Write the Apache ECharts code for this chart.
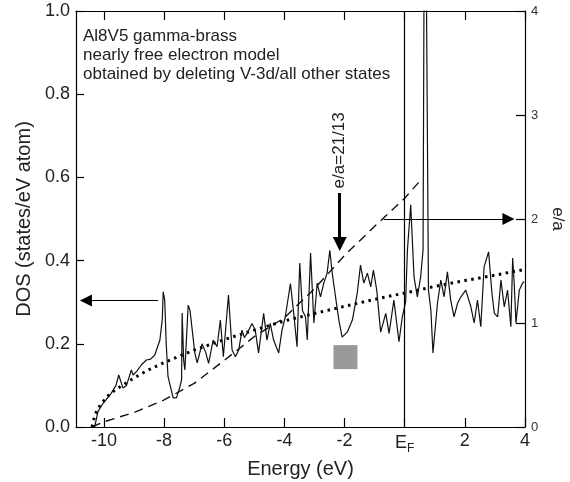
<!DOCTYPE html>
<html>
<head>
<meta charset="utf-8">
<script src="https://cdn.jsdelivr.net/npm/echarts@6/dist/echarts.min.js"></script>
<style>
  html, body { margin: 0; padding: 0; background: #fff; }
  #chart { width: 570px; height: 482px; }
</style>
</head>
<body>
<div id="chart"></div>
<script>
// energy ticks (eV), 0 is drawn as E_F
var energyTicks = [-10, -8, -6, -4, -2, 0, 2, 4];
var dosTicks = [0, 0.2, 0.4, 0.6, 0.8, 1.0];
var eaTicks = [0, 1, 2, 3, 4];

// DOS curve
var dosEnergy = [-10.31, -10.2, -10.03, -9.76, -9.6, -9.51, -9.37, -9.25, -9.09, -9.03, -8.9, -8.76, -8.59, -8.45, -8.31, -8.14, -8.06, -8.03, -7.98, -7.93,
  -7.87, -7.7, -7.59, -7.48, -7.42, -7.4, -7.35, -7.31, -7.2, -7.14, -6.98, -6.9, -6.74, -6.62, -6.52, -6.37, -6.24, -6.13, -6.03, -5.86,
  -5.74, -5.63, -5.52, -5.41, -5.33, -5.24, -5.08, -4.97, -4.86, -4.69, -4.58, -4.47, -4.36, -4.19, -4.08, -3.97, -3.8, -3.69, -3.58, -3.49,
  -3.4, -3.3, -3.24, -3.13, -3.02, -2.91, -2.8, -2.69, -2.58, -2.49, -2.41, -2.3, -2.19, -2.08, -1.91, -1.74, -1.58, -1.47, -1.36, -1.24,
  -1.13, -1.04, -0.93, -0.8, -0.63, -0.52, -0.36, -0.19, -0.08, 0.03, 0.09, 0.2, 0.31, 0.42, 0.53, 0.61, 0.67, 0.79, 0.87, 0.94,
  1.09, 1.2, 1.31, 1.42, 1.53, 1.64, 1.76, 1.87, 2.03, 2.2, 2.31, 2.42, 2.53, 2.64, 2.79, 2.9, 2.98, 3.09, 3.2, 3.31,
  3.42, 3.53, 3.59, 3.64, 3.7, 3.81, 3.92, 3.97];
var dosValue = [0.0, 0.037, 0.057, 0.081, 0.1, 0.125, 0.094, 0.1, 0.137, 0.125, 0.135, 0.149, 0.161, 0.163, 0.173, 0.209, 0.26, 0.325, 0.305, 0.2,
  0.121, 0.07, 0.07, 0.095, 0.113, 0.274, 0.16, 0.137, 0.293, 0.281, 0.178, 0.154, 0.2, 0.18, 0.153, 0.209, 0.193, 0.257, 0.169, 0.317,
  0.185, 0.169, 0.185, 0.233, 0.215, 0.225, 0.249, 0.233, 0.178, 0.273, 0.209, 0.249, 0.209, 0.178, 0.233, 0.265, 0.345, 0.273, 0.193, 0.394,
  0.28, 0.265, 0.209, 0.418, 0.25, 0.346, 0.313, 0.346, 0.37, 0.425, 0.37, 0.313, 0.257, 0.216, 0.228, 0.257, 0.321, 0.389, 0.346, 0.37,
  0.337, 0.377, 0.329, 0.228, 0.273, 0.225, 0.305, 0.205, 0.265, 0.3, 0.425, 0.534, 0.361, 0.313, 0.361, 0.425, 1.6, 0.329, 0.281, 0.178,
  0.298, 0.353, 0.313, 0.373, 0.305, 0.265, 0.298, 0.313, 0.329, 0.289, 0.25, 0.305, 0.241, 0.385, 0.421, 0.322, 0.273, 0.265, 0.353, 0.289,
  0.329, 0.241, 0.406, 0.346, 0.25, 0.329, 0.346, 0.349];

// nearly free electron DOS (dotted)
var nfeEnergy = [-10.4, -10.3, -10.1, -9.8, -9.5, -9, -8.5, -8, -7, -6, -5, -4, -3, -2, -1, 0, 1, 2, 3, 4];
var nfeValue = [0, 0.03, 0.055, 0.08, 0.095, 0.118, 0.138, 0.155, 0.185, 0.21, 0.233, 0.255, 0.273, 0.29, 0.307, 0.322, 0.338, 0.352, 0.365, 0.379];

// integrated e/a (dashed, right axis)
var eaEnergy = [-10.4, -10, -9, -8, -7, -6, -5, -4, -3, -2, -1, 0, 0.55];
var eaValue = [0, 0.05, 0.14, 0.26, 0.42, 0.64, 0.87, 1.05, 1.33, 1.65, 1.93, 2.2, 2.38];

// gray marker
var markerPoint = [[-1.97, 0.168]];

function zip(a, b) {
  return a.map(function (v, i) { return [v, b[i]]; });
}

var textColor = "#222";
var fontFam = "Liberation Sans, Arial, sans-serif";

var myChart = echarts.init(document.getElementById("chart"));
myChart.setOption({
  animation: false,
  grid: { left: 76, right: 45, top: 11, bottom: 55, containLabel: false, outerBoundsMode: "none" },
  xAxis: [
    {
      type: "value",
      min: -10.93,
      max: 4,
      name: "Energy (eV)",
      nameLocation: "middle",
      nameGap: 27,
      nameTextStyle: { fontSize: 20, color: textColor, fontFamily: fontFam },
      splitLine: { show: false },
      axisLine: { onZero: false, lineStyle: { color: "#000", width: 1.2 } },
      axisTick: { inside: true, length: 9, customValues: energyTicks, lineStyle: { color: "#000", width: 1.2 } },
      axisLabel: {
        customValues: energyTicks,
        margin: 5,
        fontSize: 18,
        color: textColor,
        fontFamily: fontFam,
        formatter: function (v) {
          if (v === 0) return "{e|E}{f|F}";
          return String(v);
        },
        rich: {
          e: { fontSize: 18, color: textColor, fontFamily: fontFam },
          f: { fontSize: 12, color: textColor, fontFamily: fontFam, padding: [11, 0, 0, 0] }
        }
      }
    },
    {
      type: "value",
      position: "top",
      min: -10.93,
      max: 4,
      splitLine: { show: false },
      axisLine: { onZero: false, lineStyle: { color: "#000", width: 1.2 } },
      axisTick: { inside: true, length: 9, customValues: energyTicks, lineStyle: { color: "#000", width: 1.2 } },
      axisLabel: { show: false }
    }
  ],
  yAxis: [
    {
      type: "value",
      min: 0,
      max: 1,
      interval: 0.2,
      name: "DOS (states/eV atom)",
      nameLocation: "middle",
      nameGap: 39,
      nameTextStyle: { fontSize: 20, color: textColor, fontFamily: fontFam },
      splitLine: { show: false },
      axisLine: { show: true, onZero: false, lineStyle: { color: "#000", width: 1.2 } },
      axisTick: { inside: true, length: 8, lineStyle: { color: "#000", width: 1.2 } },
      axisLabel: {
        fontSize: 18,
        color: textColor,
        fontFamily: fontFam,
        margin: 6,
        formatter: function (v) { return v.toFixed(1); }
      }
    },
    {
      type: "value",
      min: 0,
      max: 4,
      interval: 1,
      position: "right",
      name: "e/a",
      nameLocation: "middle",
      nameRotate: -90,
      nameGap: 12,
      nameTextStyle: { fontSize: 17, color: textColor, fontFamily: fontFam },
      splitLine: { show: false },
      axisLine: { show: true, onZero: false, lineStyle: { color: "#000", width: 1.2 } },
      axisTick: { inside: true, length: 9, lineStyle: { color: "#000", width: 1.2 } },
      axisLabel: { fontSize: 13, color: "#333", fontFamily: fontFam, margin: 6 }
    }
  ],
  series: [
    {
      name: "e/a",
      type: "line",
      xAxisIndex: 0,
      yAxisIndex: 1,
      data: zip(eaEnergy, eaValue),
      showSymbol: false,
      lineStyle: { color: "#111", width: 1.4, type: [9, 6] },
      markLine: {
        silent: true,
        symbol: ["none", "triangle"],
        symbolSize: 12,
        label: { show: false },
        lineStyle: { color: "#000", width: 1.2, type: "solid" },
        data: [[{ coord: [-0.7, 2] }, { coord: [3.45, 2] }]]
      }
    },
    {
      name: "free electron",
      type: "line",
      data: zip(nfeEnergy, nfeValue),
      showSymbol: false,
      lineStyle: { color: "#000", width: 3, type: [2.5, 4.5] }
    },
    {
      name: "DOS",
      type: "line",
      data: zip(dosEnergy, dosValue),
      showSymbol: false,
      clip: true,
      lineStyle: { color: "#111", width: 1.2 },
      markLine: {
        silent: true,
        symbol: ["none", "triangle"],
        symbolSize: 12,
        label: { show: false },
        lineStyle: { color: "#000", width: 1.2, type: "solid" },
        data: [
          [{ coord: [-8.2, 0.304] }, { coord: [-10.6, 0.304] }],
          [{ coord: [0, 0], symbol: "none" }, { coord: [0, 1], symbol: "none" }],
          [{ coord: [-2.16, 0.5625], lineStyle: { width: 3 } }, { coord: [-2.16, 0.44], symbolSize: 14, lineStyle: { width: 3 } }]
        ]
      }
    },
    {
      name: "marker",
      type: "scatter",
      data: markerPoint,
      symbol: "rect",
      symbolSize: 24,
      itemStyle: { color: "#7f7f7f" }
    }
  ],
  graphic: [
    {
      id: "note",
      type: "text",
      left: 83,
      top: 27,
      style: {
        text: "Al8V5 gamma-brass\nnearly free electron model\nobtained by deleting V-3d/all other states",
        font: "17px " + fontFam,
        fill: textColor,
        lineHeight: 19
      }
    }
  ]
});

// rotated label above the e/a=21/13 arrow
var p = myChart.convertToPixel({ xAxisIndex: 0, yAxisIndex: 0 }, [-2.16, 0.665]);
myChart.setOption({
  graphic: [
    {
      id: "ea-label",
      type: "text",
      x: p[0],
      y: p[1],
      rotation: Math.PI / 2,
      style: {
        text: "e/a=21/13",
        font: "17px " + fontFam,
        fill: textColor,
        align: "center",
        verticalAlign: "middle"
      }
    }
  ]
});
</script>
</body>
</html>
